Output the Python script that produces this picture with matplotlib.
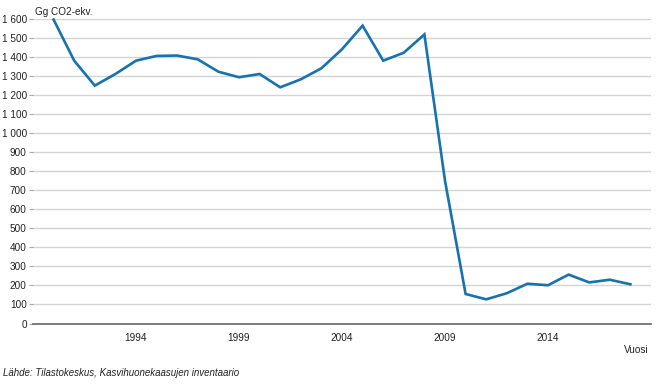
import numpy as np
import matplotlib
matplotlib.use('Agg')
import matplotlib.pyplot as plt

################

years = list(range(1990, 2019))
values = [1597, 1381, 1250, 1311, 1381, 1406, 1408, 1388, 1323, 1294,
          1311, 1241, 1283, 1341, 1441, 1565, 1381, 1423, 1519, 750,
          155, 127, 159, 209, 201, 257, 216, 230, 206]

x_ticks = [1994, 1999, 2004, 2009, 2014]
y_ticks = list(range(0, 1700, 100))

################

plt.rcParams['font.family'] = ['Liberation Sans', 'DejaVu Sans']

fig = plt.figure(figsize=(6.62, 3.85), dpi=100)
ax = fig.add_axes([33 / 662, 1 - 323.5 / 385, (651 - 33) / 662, (323.5 - 19) / 385])

ax.plot(years, values, color='#1672b0', linewidth=1.9, solid_joinstyle='miter', clip_on=False, zorder=3)

ax.set_xlim(1989, 2019)
ax.set_ylim(0, 1600)
ax.set_xticks(x_ticks)
ax.set_xticklabels([str(t) for t in x_ticks])
ax.set_yticks(y_ticks)
ax.set_yticklabels([f'{t:,}'.replace(',', ' ') for t in y_ticks])

ax.grid(axis='y', color='#d4d4d4', linewidth=1.0)
ax.set_axisbelow(True)
for s in ['top', 'right', 'left']:
    ax.spines[s].set_visible(False)
ax.spines['bottom'].set_color('#666666')
ax.spines['bottom'].set_linewidth(1.2)

ax.tick_params(axis='y', length=3, color='#aaaaaa', labelsize=7.2, labelcolor='#222222', pad=1.5)
ax.tick_params(axis='x', length=0, labelsize=7.2, labelcolor='#222222', pad=7)

fig.text(35 / 662, 1 - 12 / 385, 'Gg CO2-ekv.', fontsize=7.2, color='#222222', va='center', ha='left')
fig.text(649 / 662, 1 - 350 / 385, 'Vuosi', fontsize=7.2, color='#222222', va='center', ha='right')
fig.text(3 / 662, 1 - 373 / 385, 'Lähde: Tilastokeskus, Kasvihuonekaasujen inventaario',
         fontsize=7, style='italic', color='#222222', va='center', ha='left')

fig.savefig('out.png', dpi=100)
